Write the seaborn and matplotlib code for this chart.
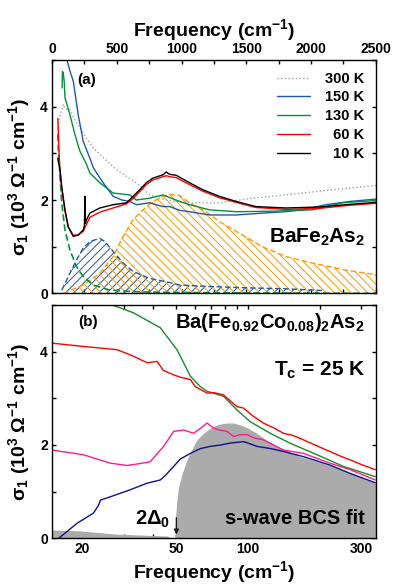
import numpy as np
import pandas as pd
import seaborn as sns
import matplotlib
matplotlib.use("Agg")
from matplotlib import pyplot as plt

# ---- panel (a): BaFe2As2, linear frequency axis (cm-1) ----
f300 = [45, 54, 62, 87, 100, 138, 180, 215, 260, 318, 400, 497, 580, 651, 754, 882, 1000, 1062, 1292, 1549, 1800, 1933, 2200, 2500]
s300 = [3.4, 3.7, 3.8, 4.05, 3.95, 3.94, 3.7, 3.55, 3.35, 3.12, 2.9, 2.65, 2.5, 2.37, 2.11, 2.0, 1.96, 1.94, 1.94, 2.04, 2.11, 2.15, 2.23, 2.31]

f150 = [110, 120, 140, 164, 202, 241, 270, 292, 318, 344, 395, 472, 540, 600, 651, 754, 856, 908, 985, 1062, 1215, 1421, 1625, 1800, 1933, 2113, 2300, 2500]
s150 = [5.1, 4.95, 4.75, 4.55, 3.83, 3.26, 3.05, 2.9, 2.7, 2.58, 2.37, 2.08, 2.0, 1.97, 1.90, 1.94, 1.86, 1.86, 1.78, 1.75, 1.68, 1.68, 1.72, 1.75, 1.79, 1.90, 1.97, 2.02]

f130 = [78, 80, 87, 95, 100, 138, 177, 215, 267, 292, 369, 472, 600, 651, 754, 856, 985, 1062, 1215, 1421, 1677, 2010, 2241, 2500]
s130 = [4.4, 4.75, 4.73, 4.5, 4.19, 3.83, 3.40, 3.05, 2.76, 2.58, 2.37, 2.15, 2.11, 2.0, 2.04, 2.11, 1.97, 1.90, 1.79, 1.75, 1.76, 1.79, 1.94, 1.99]

f60 = [45, 48, 55, 62, 75, 100, 125, 164, 202, 241, 292, 369, 472, 575, 626, 677, 728, 779, 856, 882, 908, 959, 1062, 1164, 1292, 1421, 1574, 1805, 2062, 2267, 2500]
s60 = [3.75, 3.5, 3.0, 2.6, 2.25, 1.77, 1.42, 1.25, 1.25, 1.33, 1.63, 1.74, 1.83, 1.92, 2.03, 2.18, 2.33, 2.43, 2.50, 2.52, 2.50, 2.48, 2.33, 2.19, 2.05, 1.95, 1.84, 1.80, 1.82, 1.88, 1.93]

f10 = [45, 50, 55, 62, 75, 100, 125, 164, 202, 241, 250, 254, 258, 270, 292, 369, 472, 575, 626, 677, 728, 779, 856, 882, 908, 959, 1062, 1164, 1292, 1421, 1574, 1805, 2062, 2267, 2500]
s10 = [2.9, 2.8, 2.75, 2.65, 2.29, 1.79, 1.43, 1.22, 1.25, 1.36, 1.45, 2.08, 1.5, 1.6, 1.72, 1.83, 1.90, 1.94, 2.08, 2.22, 2.37, 2.47, 2.54, 2.6, 2.55, 2.53, 2.37, 2.22, 2.08, 1.97, 1.86, 1.83, 1.85, 1.90, 1.95]

# fit components
f_drude = [45, 50, 62, 75, 100, 138, 190, 241, 318, 446, 700, 1000, 1500, 2500]
s_drude = [3.4, 3.0, 2.5, 1.94, 1.36, 0.93, 0.57, 0.36, 0.18, 0.07, 0.03, 0.02, 0.01, 0.0]

f_lor1 = [75, 138, 190, 241, 292, 369, 408, 472, 549, 626, 754, 882, 985, 1200, 1500, 1800, 2100]
s_lor1 = [0.07, 0.43, 0.72, 0.97, 1.11, 1.18, 1.11, 0.90, 0.65, 0.47, 0.32, 0.25, 0.18, 0.15, 0.12, 0.10, 0.06]

f_lor2 = [87, 241, 369, 472, 549, 626, 703, 779, 856, 908, 985, 1062, 1190, 1292, 1421, 1625, 1805, 2010, 2267, 2500]
s_lor2 = [0.0, 0.18, 0.43, 0.79, 1.22, 1.58, 1.79, 1.97, 2.08, 2.12, 2.10, 1.94, 1.75, 1.54, 1.33, 1.0, 0.79, 0.65, 0.50, 0.40]

# ---- panel (b): Ba(Fe0.92Co0.08)2As2, log frequency axis ----
g_f = [26.8, 33, 42.8, 50.3, 57.3, 63, 67.3, 79, 89.9, 102, 124, 150, 195, 252, 343]
g_s = [5.0, 4.83, 4.51, 4.04, 3.47, 3.25, 3.15, 3.04, 2.75, 2.5, 2.25, 2.04, 1.79, 1.54, 1.32]

r_f = [15, 20.3, 28.2, 33, 37.7, 41.5, 44, 48.7, 52, 57.3, 60, 67.3, 72, 79, 84, 89.9, 95.8, 105, 116, 130, 141, 155, 171, 195, 221, 245, 269, 300, 343]
r_s = [4.18, 4.11, 4.04, 3.9, 3.76, 3.79, 3.6, 3.50, 3.45, 3.40, 3.25, 3.11, 3.12, 3.07, 2.95, 2.82, 2.79, 2.62, 2.47, 2.35, 2.25, 2.2, 2.11, 1.98, 1.86, 1.76, 1.68, 1.58, 1.47]

m_f = [15, 20.3, 26.4, 31.0, 35, 38.8, 41, 44.2, 48.7, 53.7, 59.1, 63, 67.3, 71.7, 76, 81.6, 87, 93, 99, 106, 116, 128, 141, 171, 221, 269, 343]
m_s = [1.89, 1.79, 1.61, 1.56, 1.6, 1.64, 1.78, 1.97, 2.29, 2.32, 2.25, 2.35, 2.47, 2.36, 2.32, 2.29, 2.18, 2.22, 2.22, 2.15, 2.11, 2.0, 1.89, 1.82, 1.61, 1.47, 1.25]

n_f = [16, 19.1, 22.4, 23.5, 24, 26.4, 32, 37.6, 42.8, 45, 48.7, 52, 57.3, 63, 69.4, 77, 84.2, 95.8, 100, 109, 125, 141, 171, 221, 269, 343]
n_s = [0.0, 0.32, 0.54, 0.7, 0.82, 0.89, 1.04, 1.18, 1.25, 1.35, 1.54, 1.7, 1.82, 1.92, 1.97, 2.0, 2.04, 2.07, 2.04, 1.97, 1.92, 1.86, 1.75, 1.57, 1.39, 1.19]

bcs_f = [15, 19.6, 28, 40, 46, 47.5, 49.4, 49.6, 50.3, 51.1, 53, 55.4, 58, 61, 65, 69.4, 75, 81.6, 87, 92.8, 100, 109, 120, 132, 150, 166, 200, 229, 270, 300, 345]
bcs_s = [0.18, 0.16, 0.09, 0.06, 0.05, 0.0, 0.0, 0.45, 0.82, 1.11, 1.4, 1.68, 1.9, 2.11, 2.25, 2.36, 2.44, 2.47, 2.47, 2.43, 2.36, 2.25, 2.1, 1.97, 1.85, 1.75, 1.63, 1.54, 1.4, 1.3, 1.18]

labels_a = ["300 K", "150 K", "130 K", "\u200760 K", "\u200710 K"]

sns.set_theme(style="ticks")
plt.rcParams["font.family"] = ["Liberation Sans", "DejaVu Sans"]
plt.rcParams["font.weight"] = "bold"
plt.rcParams["axes.labelweight"] = "bold"
plt.rcParams["mathtext.fontset"] = "custom"
plt.rcParams["mathtext.rm"] = "Liberation Sans:bold"
plt.rcParams["mathtext.it"] = "Liberation Sans:bold"
plt.rcParams["mathtext.bf"] = "Liberation Sans:bold"
plt.rcParams["mathtext.default"] = "rm"
plt.rcParams["hatch.linewidth"] = 0.7
for key in ["text.color", "axes.labelcolor", "xtick.color", "ytick.color", "axes.edgecolor"]:
    plt.rcParams[key] = "black"

orange = "#ff9a00"
blue = "#1f58a8"

fig = plt.figure(figsize=(3.94, 5.88), dpi=100)
ax1 = fig.add_axes([0.132, 0.501, 0.822, 0.397])
ax2 = fig.add_axes([0.132, 0.0845, 0.822, 0.397])

# fit components (hatched)
ax1.fill_between(f_lor1, s_lor1, 0, facecolor="none", edgecolor=blue, hatch="////", linewidth=0)
ax1.fill_between(f_lor2, s_lor2, 0, facecolor="none", edgecolor=orange, hatch="\\\\\\\\", linewidth=0)
sns.lineplot(x=f_lor1, y=s_lor1, ax=ax1, color=blue, lw=1, linestyle=(0, (4, 2)))
sns.lineplot(x=f_lor2, y=s_lor2, ax=ax1, color=orange, lw=1, linestyle=(0, (4, 2)))
sns.lineplot(x=f_drude, y=s_drude, ax=ax1, color="#00913f", lw=1.2, linestyle=(0, (4, 2)))

series_a = [(f300, s300, "#a0a0a0", ":"), (f150, s150, blue, "-"), (f130, s130, "#00913f", "-"),
            (f60, s60, "#ff0000", "-"), (f10, s10, "#000000", "-")]
for (fx, sy, c, ls), lab in zip(series_a, labels_a):
    sns.lineplot(x=fx, y=sy, ax=ax1, color=c, lw=1, linestyle=ls, label=lab)

ax1.set_xlim(0, 2500)
ax1.set_ylim(0, 5)
ax1.set_xticks(np.arange(0, 2501, 250))
ax1.set_xticklabels([str(v) if v % 500 == 0 else "" for v in range(0, 2501, 250)])
ax1.set_yticks([0, 1, 2, 3, 4, 5])
ax1.set_yticklabels(["0", "", "2", "", "4", ""])
ax1.xaxis.set_label_position("top")
ax1.tick_params(direction="in", top=True, bottom=True, left=True, right=True,
                labeltop=True, labelbottom=False, length=3, width=1, labelsize=10, pad=3)
ax1.set_xlabel("Frequency (cm$^{-1}$)", fontsize=14, labelpad=4)
ax1.set_ylabel(r"σ$_1$ (10$^3$ Ω$^{-1}$ cm$^{-1}$)", fontsize=14, labelpad=6)
leg = ax1.legend(loc="upper right", frameon=False, fontsize=10.5, handlelength=2.3,
                 labelspacing=0.33, handletextpad=1.0, borderaxespad=0.4)
ax1.text(0.108, 0.914, "(a)", transform=ax1.transAxes, fontsize=11, ha="center", va="center")
ax1.text(0.966, 0.241, "BaFe$_2$As$_2$", transform=ax1.transAxes, fontsize=15, ha="right", va="center")

# ---- panel (b) ----
ax2.set_xscale("log")
ax2.fill_between(bcs_f, bcs_s, 0, color="#ababab", linewidth=0)
for fx, sy, c in [(g_f, g_s, "#1a8a2a"), (r_f, r_s, "#ff0000"), (m_f, m_s, "#ff1a8c"), (n_f, n_s, "#10108a")]:
    sns.lineplot(x=fx, y=sy, ax=ax2, color=c, lw=1)

ax2.set_xlim(15, 345)
ax2.set_ylim(0, 5)
xt = [20, 30, 40, 50, 60, 70, 80, 90, 100, 200, 300]
ax2.set_xticks(xt)
ax2.set_xticklabels([str(v) if v in (20, 50, 100, 300) else "" for v in xt])
ax2.xaxis.set_minor_locator(matplotlib.ticker.NullLocator())
ax2.set_yticks([0, 1, 2, 3, 4, 5])
ax2.set_yticklabels(["0", "", "2", "", "4", ""])
ax2.tick_params(direction="in", top=True, bottom=True, left=True, right=True,
                length=3, width=1, labelsize=10, pad=3)
ax2.set_xlabel("Frequency (cm$^{-1}$)", fontsize=14, labelpad=2)
ax2.set_ylabel(r"σ$_1$ (10$^3$ Ω$^{-1}$ cm$^{-1}$)", fontsize=14, labelpad=6)
ax2.text(0.111, 0.928, "(b)", transform=ax2.transAxes, fontsize=11, ha="center", va="center")
ax2.text(0.966, 0.923, "Ba(Fe$_{0.92}$Co$_{0.08}$)$_2$As$_2$", transform=ax2.transAxes,
         fontsize=14.5, ha="right", va="center")
ax2.text(0.966, 0.718, "T$_c$ = 25 K", transform=ax2.transAxes, fontsize=15, ha="right", va="center")
ax2.text(0.966, 0.083, "s-wave BCS fit", transform=ax2.transAxes, fontsize=14.5, ha="right", va="center")
ax2.text(0.364, 0.083, "2Δ$_0$", transform=ax2.transAxes, fontsize=14.5, ha="right", va="center")
ax2.annotate("", xy=(50, 0.02), xytext=(50, 0.5),
             arrowprops=dict(arrowstyle="-|>", color="k", lw=1, mutation_scale=7))

for ax in (ax1, ax2):
    for sp in ax.spines.values():
        sp.set_linewidth(1)
        sp.set_color("black")

fig.savefig("out.png", dpi=100)
